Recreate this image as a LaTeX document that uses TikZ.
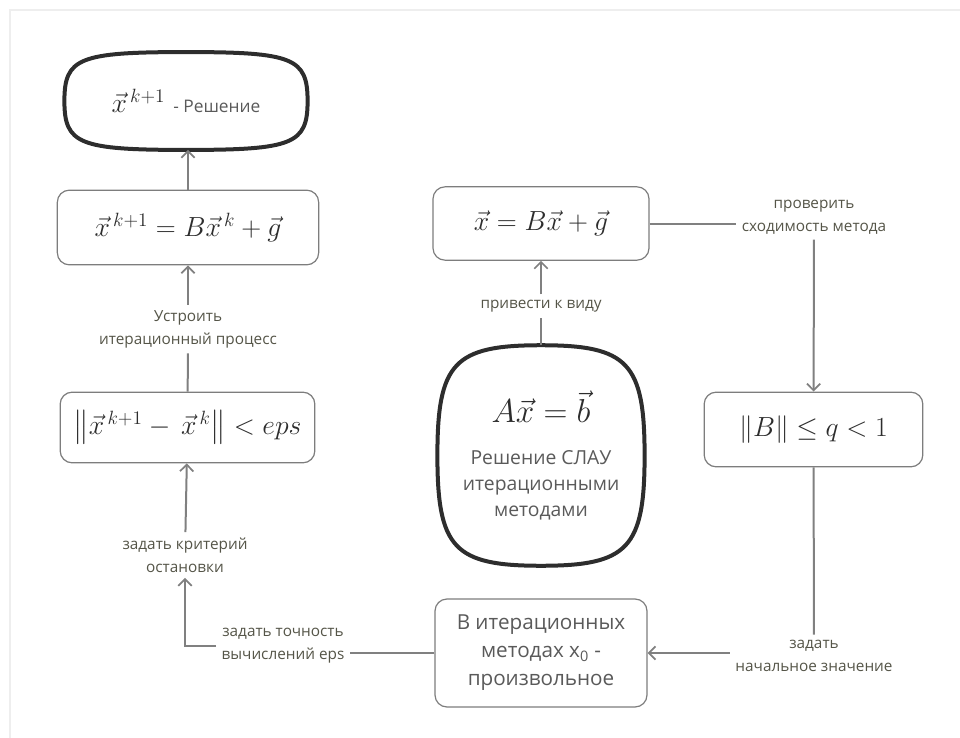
\documentclass[tikz,border=0pt]{standalone}
\usepackage{fontspec}
\setmainfont{Open Sans}
\usepackage{amsmath}
\usetikzlibrary{calc}
\usetikzlibrary{arrows.meta}

\definecolor{lineGray}{RGB}{128,128,128}
\definecolor{boxGray}{RGB}{125,125,125}
\definecolor{inkDark}{RGB}{45,45,45}
\definecolor{textGray}{RGB}{90,90,90}
\definecolor{labelGray}{RGB}{85,85,72}
\definecolor{frameGray}{RGB}{238,238,238}

\tikzset{
  conn/.style={draw=lineGray, line width=1.5pt},
  toarrow/.style={-{Straight Barb[length=5pt,width=10pt,line width=1.3pt]}},
  eqbox/.style={draw=boxGray, line width=0.9pt, rounded corners=9pt, fill=white,
    text=inkDark, align=center, inner sep=0pt},
  softbox/.style={draw=none, text=inkDark, align=center, inner sep=0pt},
  softline/.style={draw=inkDark, line width=3pt, line join=round},
  lbl/.style={text=labelGray, align=center, inner sep=4pt,
    font=\fontsize{11.5}{17.25}\selectfont}
}

% bulging frame round a node
\newcommand{\softframe}[2]{%
  \draw[softline]
    (#1.west) .. controls ($(#1.west)!#2!(#1.north west)$) and ($(#1.north)!#2!(#1.north west)$) .. (#1.north)
    .. controls ($(#1.north)!#2!(#1.north east)$) and ($(#1.east)!#2!(#1.north east)$) .. (#1.east)
    .. controls ($(#1.east)!#2!(#1.south east)$) and ($(#1.south)!#2!(#1.south east)$) .. (#1.south)
    .. controls ($(#1.south)!#2!(#1.south west)$) and ($(#1.west)!#2!(#1.south west)$) .. (#1.west) -- cycle;}

\begin{document}
\begin{tikzpicture}[x=0.75pt, y=-0.75pt]

\useasboundingbox (0,0) rectangle (960,738);
\draw[frameGray, line width=1.6pt] (10,738) -- (10,10) -- (960,10);

%%% left column
\node[softbox, minimum width=182pt, minimum height=73pt] (result) at (186,101)
  {\fontsize{20}{24}\selectfont$\vec{x}^{\,k+1}$\hspace{6pt}{\color{textGray}\fontsize{13}{16}\selectfont - Решение}};
\softframe{result}{0.88}

\node[eqbox, minimum width=196pt, minimum height=56pt] (iter) at (188,227.5)
  {\fontsize{20}{24}\selectfont$\vec{x}^{\,k+1} = B\vec{x}^{\,k} + \vec{g}$};

\node[lbl] (lblproc) at (188,329) {Устроить\\итерационный процесс};

\node[eqbox, minimum width=191pt, minimum height=53pt] (stop) at (187.5,427.5)
  {\fontsize{20}{24}\selectfont$\bigl\|\vec{x}^{\,k+1} -\, \vec{x}^{\,k}\bigr\| < eps$};

\node[lbl] (lblstop) at (185,555) {задать критерий\\остановки};
\node[lbl] (lbleps) at (283,646) {задать точность\\вычислений eps};

%%% middle column
\node[eqbox, minimum width=162pt, minimum height=55pt] (form) at (541,223.5)
  {\fontsize{20}{24}\selectfont$\vec{x} = B\vec{x} + \vec{g}$};

\node[lbl] (lblform) at (541,306) {привести к виду};

\node[softbox, minimum width=155pt, minimum height=165pt, text=textGray,
  font=\fontsize{14.5}{19.5}\selectfont] (slau) at (541,455.5)
  {{\color{inkDark}\fontsize{26}{30}\selectfont$A\vec{x} = \vec{b}$}\\[12pt]
   Решение СЛАУ\\итерационными\\методами};
\softframe{slau}{0.84}

\node[eqbox, minimum width=159pt, minimum height=81pt, text=textGray,
  font=\fontsize{15.5}{21}\selectfont] (init) at (541,653)
  {В итерационных\\методах x\textsubscript{0} -\\произвольное};

%%% right column
\node[lbl] (lblcheck) at (814,217) {проверить\\сходимость метода};

\node[eqbox, minimum width=164pt, minimum height=56pt] (norm) at (813.5,429.5)
  {\fontsize{20}{24}\selectfont$\|B\| \leq q < 1$};

\node[lbl] (lblstart) at (814,656) {задать\\начальное значение};

%%% connectors
\draw[conn, toarrow] (iter.north) -- (iter.north |- result.south);
\draw[conn, toarrow] (lblproc) -- (iter);
\draw[conn] (stop) -- (lblproc);
\draw[conn, toarrow] (lblstop) -- (stop);
\draw[conn, toarrow] (lbleps.west) -| (lblstop.south);
\draw[conn] (init.west) -- (init.west -| lbleps.east);

\draw[conn, toarrow] (lblform) -- (form);
\draw[conn] (slau) -- (lblform);

\draw[conn] (form.east) -- (form.east -| lblcheck.west);
\draw[conn, toarrow] (lblcheck) -- (norm);
\draw[conn] (norm) -- (lblstart);
\draw[conn, toarrow] (init.east -| lblstart.west) -- (init.east);

\end{tikzpicture}
\end{document}
